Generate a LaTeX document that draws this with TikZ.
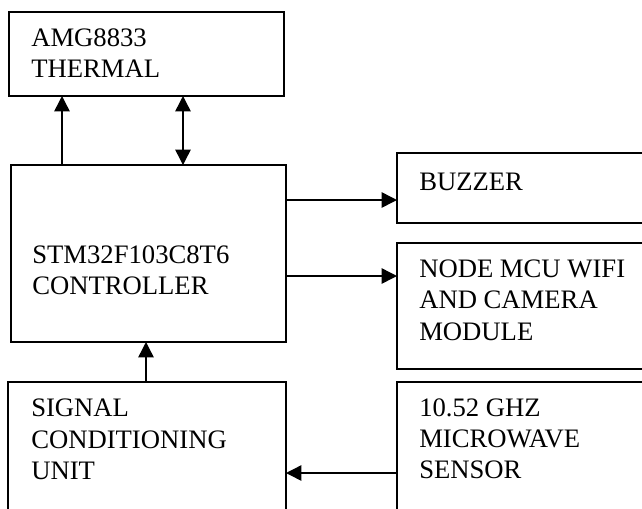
\documentclass[tikz,border=0pt]{standalone}
\usepackage{fontspec}
\setmainfont{Liberation Serif}
\usetikzlibrary{arrows.meta}

\begin{document}
\begin{tikzpicture}[x=0.75pt, y=-0.75pt,
            block/.style={draw, rectangle, line width=1.5pt, inner sep=0pt, outer sep=0pt, anchor=north west},
            label/.style={anchor=north west, inner sep=0pt, align=left, font=\fontsize{20}{23.3}\selectfont},
            arr/.style={-{Triangle[length=11.5pt, width=11.5pt]}, line width=1.1pt},
            dblarr/.style={{Triangle[length=11.5pt, width=11.5pt]}-{Triangle[length=11.5pt, width=11.5pt]}, line width=1.1pt}]
            \useasboundingbox (0,0) rectangle (642,508);
            \clip (0,0) rectangle (642,508);

            \node[block, minimum width=206.25pt, minimum height=63pt] (amg) at (9,12) {};
            \node[label] (amgtxt) at (31,28) {AMG8833\\THERMAL};

            \node[block, minimum width=206.25pt, minimum height=132.75pt] (ctrl) at (11,165) {};
            \node[label] (ctrltxt) at (32,245) {STM32F103C8T6\\CONTROLLER};

            \node[block, minimum width=202.5pt, minimum height=52.5pt] (buzzer) at (397,153) {};
            \node[label] (buzzertxt) at (419,173) {BUZZER};

            \node[block, minimum width=202.5pt, minimum height=94.5pt] (nodemcu) at (397,243) {};
            \node[label] (nodemcutxt) at (419,260) {NODE MCU WIFI\\AND CAMERA\\MODULE};

            \node[block, minimum width=208.5pt, minimum height=112.5pt] (signal) at (8,382) {};
            \node[label] (signaltxt) at (31,399) {SIGNAL\\CONDITIONING\\UNIT};

            \node[block, minimum width=202.5pt, minimum height=112.5pt] (microwave) at (397,382) {};
            \node[label] (microwavetxt) at (419,398) {10.52 GHZ\\MICROWAVE\\SENSOR};

            % taps for the vertical links
            \coordinate (tapa) at (62,0);
            \coordinate (tapb) at (183,0);
            \coordinate (tapc) at (146,0);
            \coordinate (tapd) at (0,200);
            \coordinate (tape) at (0,276);
            \coordinate (tapf) at (0,473);

            \draw[arr] (ctrl.north -| tapa) -- (amg.south -| tapa);
            \draw[dblarr] (ctrl.north -| tapb) -- (amg.south -| tapb);
            \draw[arr] (ctrl.east |- tapd) -- (buzzer.west |- tapd);
            \draw[arr] (ctrl.east |- tape) -- (nodemcu.west |- tape);
            \draw[arr] (signal.north -| tapc) -- (ctrl.south -| tapc);
            \draw[arr] (microwave.west |- tapf) -- (signal.east |- tapf);
        \end{tikzpicture}
\end{document}
